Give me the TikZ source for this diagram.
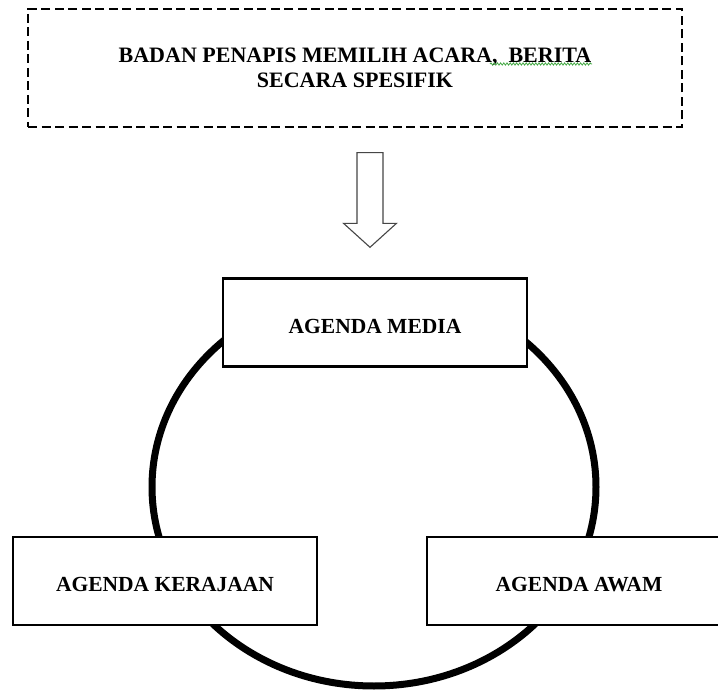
\documentclass[tikz,border=0pt]{standalone}
\usepackage{fontspec}
\setmainfont{Liberation Serif}
\usetikzlibrary{decorations.pathmorphing}
\definecolor{squiggle}{RGB}{70,170,70}
\definecolor{arrowgray}{RGB}{70,70,70}
\tikzset{
  agendabox/.style={draw, fill=white, line width=2.5pt, minimum width=304pt, minimum height=88pt,
    inner sep=0pt, text height=21pt, text depth=0pt, font=\bfseries\fontsize{21.5}{25}\selectfont},
  filterbox/.style={draw, line width=2pt, dash pattern=on 9pt off 4.5pt, minimum width=654pt,
    minimum height=118pt, inner sep=0pt, align=center, font=\bfseries\fontsize{22}{25}\selectfont},
  ring/.style={line width=7pt},
  blockarrow/.style={draw=arrowgray, line width=1.1pt, fill=white, line join=miter},
}
\begin{document}
\begin{tikzpicture}[x=1pt, y=-1pt]
\path[use as bounding box, clip] (0,0) rectangle (718,690);
\fill[white] (0,0) rectangle (718,690);
% filter box
\node[filterbox] (filter) at (355,68) {BADAN PENAPIS MEMILIH ACARA,\ \ BERITA\\SECARA SPESIFIK};
\draw[squiggle, line width=0.8pt, decorate, decoration={snake, segment length=3.2pt, amplitude=1.1pt}]
  (490,64) -- (592,64);
% block arrow
\draw[blockarrow] (357,152.7) -- (383,152.7) -- (383,223.3) -- (396.5,223.3) -- (370,247.3)
  -- (343.5,223.3) -- (357,223.3) -- cycle;
% ring
\draw[ring] (374,487) ellipse [x radius=222pt, y radius=199pt];
% agenda boxes
\node[agendabox] (media) at (375,322.5) {AGENDA MEDIA};
\node[agendabox] (kerajaan) at (165,581) {AGENDA KERAJAAN};
\node[agendabox] (awam) at (579,581) {AGENDA AWAM};
\end{tikzpicture}
\end{document}
